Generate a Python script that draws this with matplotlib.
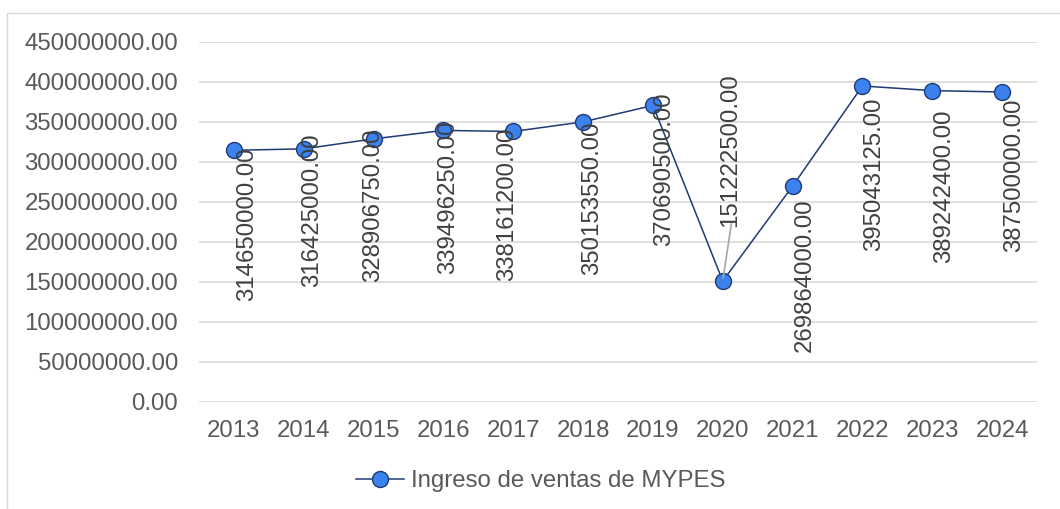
import matplotlib.pyplot as plt
from matplotlib.patches import Rectangle

plt.rcParams['font.family'] = ['Liberation Sans', 'DejaVu Sans']

years = ['2013', '2014', '2015', '2016', '2017', '2018', '2019', '2020', '2021', '2022', '2023', '2024']
ventas = [314650000, 316425000, 328906750, 339496250, 338161200, 350153550,
          370690500, 151222500, 269864000, 395043125, 389242400, 387500000]
serie = 'Ingreso de ventas de MYPES'

# label offsets in pixels (x, top of label relative to the point)
lbl_dx = [13, 8, 0, 5, -6, 9, 11, 7, 12, 12, 12, 12]
lbl_dy = [3, 15, 10, 10, 4, 0, 13, 208, -12, -12, -19, -7]

fs = 17.3
gris = '#595959'
fig = plt.figure(figsize=(10.6, 5.09), dpi=100)
fig.patches.append(Rectangle((7 / 1060, -0.1), 1.2, 1 - 13 / 509 + 0.1,
                             transform=fig.transFigure, fill=False,
                             edgecolor='#d9d9d9', linewidth=1))
ax = fig.add_axes([199 / 1060, 1 - 402 / 509, 838 / 1060, 360 / 509])

x = list(range(len(years)))
ax.plot(x, ventas, color='#1f3a75', linewidth=1.1, marker='o', markersize=11.5,
        markerfacecolor='#3b82ec', markeredgecolor='#1f3a75', markeredgewidth=1,
        label=serie, zorder=3)

for i, v in enumerate(ventas):
    ax.annotate(f'{v:.2f}', (i, v), xytext=(lbl_dx[i], lbl_dy[i]),
                textcoords='offset pixels', rotation=90, ha='center', va='top',
                fontsize=fs, color='#404040')

# leader line for 2020 label
ax.annotate('', (7, ventas[7]), xytext=(9, 60), textcoords='offset pixels',
            arrowprops=dict(arrowstyle='-', color='#a6a6a6', linewidth=1.2))

ax.set_xlim(-0.5, len(years) - 0.5)
ax.set_ylim(0, 450000000)
ax.set_yticks(range(0, 450000001, 50000000))
ax.set_yticklabels([f'{t:.2f}' for t in range(0, 450000001, 50000000)])
ax.set_xticks(x)
ax.set_xticklabels(years)
ax.yaxis.grid(True, color='#d9d9d9', linewidth=1.2)
ax.set_axisbelow(True)
for s in ax.spines.values():
    s.set_visible(False)
ax.tick_params(length=0, labelsize=fs, labelcolor=gris)
ax.tick_params(axis='y', pad=15)
ax.tick_params(axis='x', pad=13)

ax.legend(loc='center', bbox_to_anchor=(541 / 1060, 1 - 481 / 509),
          bbox_transform=fig.transFigure, frameon=False, fontsize=fs,
          labelcolor=gris, handlelength=2.0, handletextpad=0.3)

plt.savefig('out.png')
